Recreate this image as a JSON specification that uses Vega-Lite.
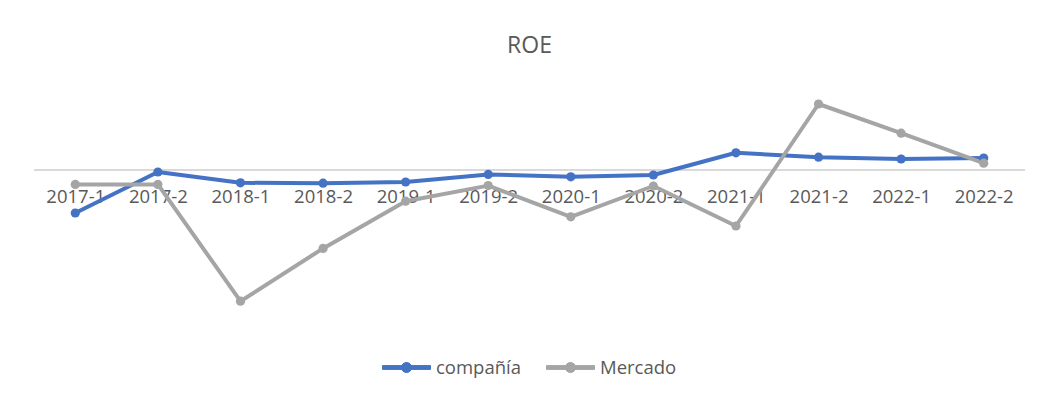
{
  "$schema": "https://vega.github.io/schema/vega-lite/v6.json",
  "width": 991,
  "height": 240,
  "autosize": {"type": "none"},
  "padding": {"left": 34, "top": 90, "right": 16, "bottom": 71},
  "background": "white",
  "title": {"text": "ROE", "font": "Open Sans", "fontSize": 23, "fontWeight": "normal", "color": "#595959", "offset": 32},
  "config": {"view": {"stroke": null}, "legend": {"layout": {"bottom": {"anchor": "middle"}}}},
  "data": {"values": [
    {"periodo": "2017-1", "serie": "compañía", "valor": -0.1075},
    {"periodo": "2017-2", "serie": "compañía", "valor": -0.005},
    {"periodo": "2018-1", "serie": "compañía", "valor": -0.032},
    {"periodo": "2018-2", "serie": "compañía", "valor": -0.033},
    {"periodo": "2019-1", "serie": "compañía", "valor": -0.030},
    {"periodo": "2019-2", "serie": "compañía", "valor": -0.011},
    {"periodo": "2020-1", "serie": "compañía", "valor": -0.017},
    {"periodo": "2020-2", "serie": "compañía", "valor": -0.0125},
    {"periodo": "2021-1", "serie": "compañía", "valor": 0.043},
    {"periodo": "2021-2", "serie": "compañía", "valor": 0.032},
    {"periodo": "2022-1", "serie": "compañía", "valor": 0.0275},
    {"periodo": "2022-2", "serie": "compañía", "valor": 0.030},
    {"periodo": "2017-1", "serie": "Mercado", "valor": -0.036},
    {"periodo": "2017-2", "serie": "Mercado", "valor": -0.036},
    {"periodo": "2018-1", "serie": "Mercado", "valor": -0.328},
    {"periodo": "2018-2", "serie": "Mercado", "valor": -0.196},
    {"periodo": "2019-1", "serie": "Mercado", "valor": -0.078},
    {"periodo": "2019-2", "serie": "Mercado", "valor": -0.039},
    {"periodo": "2020-1", "serie": "Mercado", "valor": -0.117},
    {"periodo": "2020-2", "serie": "Mercado", "valor": -0.040},
    {"periodo": "2021-1", "serie": "Mercado", "valor": -0.140},
    {"periodo": "2021-2", "serie": "Mercado", "valor": 0.165},
    {"periodo": "2022-1", "serie": "Mercado", "valor": 0.092},
    {"periodo": "2022-2", "serie": "Mercado", "valor": 0.017}
  ]},
  "encoding": {
    "x": {
      "field": "periodo", "type": "ordinal", "sort": null,
      "scale": {"type": "point", "padding": 0.5},
      "axis": {
        "title": null, "domain": false, "ticks": false, "grid": false,
        "offset": -160, "labelPadding": 17, "labelAngle": 0,
        "labelFont": "Open Sans", "labelFontSize": 18.5, "labelColor": "#595959"
      }
    },
    "y": {
      "field": "valor", "type": "quantitative",
      "scale": {"domain": [-0.4, 0.2], "nice": false, "zero": false},
      "axis": null
    },
    "color": {
      "field": "serie", "type": "nominal",
      "scale": {"domain": ["compañía", "Mercado"], "range": ["#4472C4", "#A5A5A5"]},
      "legend": {
        "title": null, "orient": "bottom", "direction": "horizontal", "offset": 13, "padding": 0,
        "labelFont": "Open Sans", "labelFontSize": 18.5, "labelColor": "#595959",
        "symbolType": "M-1,-0.08H-0.2V0.08H-1Z M0.2,-0.08H1V0.08H0.2Z M0.21,0A0.21,0.21,0,1,1,-0.21,0A0.21,0.21,0,1,1,0.21,0Z",
        "symbolSize": 2304, "labelOffset": 5, "columnPadding": 22, "symbolStrokeWidth": 1,
        "encode": {"symbols": {"update": {"fill": {"scale": "color", "field": "value"}, "stroke": {"scale": "color", "field": "value"}, "opacity": {"value": 1}}}}
      }
    }
  },
  "layer": [
    {"mark": {"type": "rule", "color": "#D9D9D9", "strokeWidth": 1}, "encoding": {"y": {"datum": 0}, "x": null, "color": null}},
    {"mark": {"type": "line", "strokeWidth": 4, "strokeJoin": "round", "strokeCap": "round"}},
    {"mark": {"type": "point", "filled": true, "size": 85, "opacity": 1, "shape": "circle"}}
  ]
}
